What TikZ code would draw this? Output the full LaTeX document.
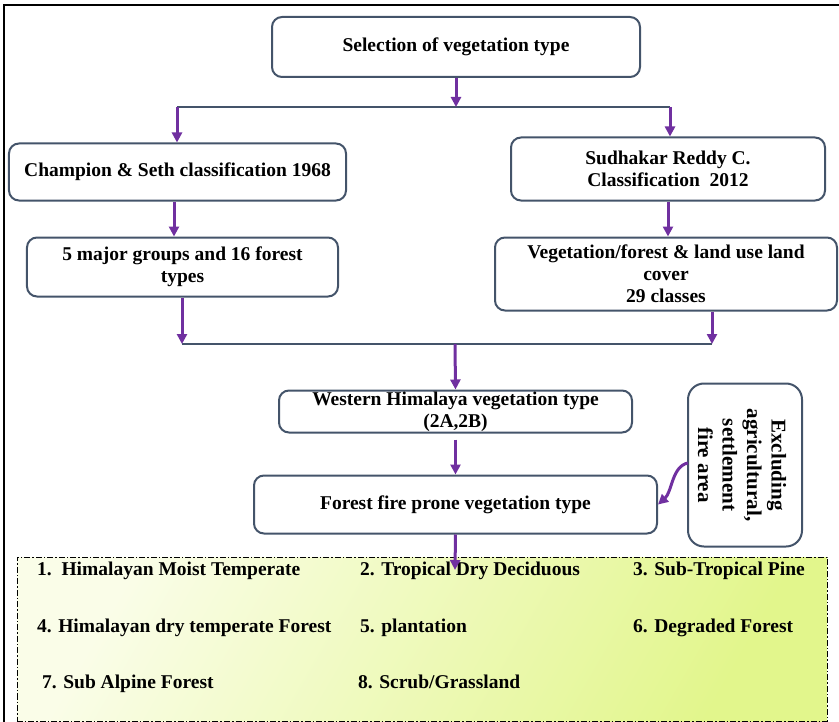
\documentclass[tikz,border=0pt]{standalone}
\usepackage{fontspec}
\setmainfont{Liberation Serif}
\usetikzlibrary{arrows.meta,calc}
\definecolor{boxc}{RGB}{68,84,106}
\definecolor{arrc}{RGB}{112,48,160}
\definecolor{gA}{RGB}{250,253,232}
\definecolor{gB}{RGB}{226,246,140}
\begin{document}
\begin{tikzpicture}[x=1bp,y=-1bp,
  txt/.style={font=\fontsize{19.5bp}{22bp}\selectfont\bfseries},
  box/.style={draw=boxc, line width=2bp, rounded corners=10bp, fill=white, inner sep=0pt, align=center, txt},
  arr/.style={draw=arrc, line width=3bp, -{Triangle[length=10bp,width=10bp]}},
  conn/.style={draw=boxc, line width=2bp},
  item/.style={anchor=base west, inner sep=0pt, txt}]
\useasboundingbox (0,0) rectangle (839,722);
\draw[line width=2bp] (4,740) -- (4,5) -- (850,5);

\node[box, minimum width=368bp, minimum height=60bp] (sel) at (456,47) {Selection of vegetation type};
\node[box, minimum width=337bp, minimum height=57bp] (cs) at (177.5,172) {Champion \& Seth classification 1968};
\node[box, minimum width=314bp, minimum height=63bp] (sr) at (668,169) {Sudhakar Reddy C.\\Classification\ \ 2012};
\node[box, minimum width=311bp, minimum height=59bp] (mj) at (182.5,267) {5 major groups and 16 forest\\types};
\node[box, minimum width=342bp, minimum height=73bp] (vg) at (666,274) {Vegetation/forest \& land use land\\cover\\29 classes};
\node[box, minimum width=353bp, minimum height=42bp] (wh) at (455.5,411.5) {Western Himalaya vegetation type\\(2A,2B)};
\node[box, minimum width=403bp, minimum height=58bp] (ff) at (455.5,504.5) {Forest fire prone vegetation type};
\node[box, minimum width=114bp, minimum height=163bp, rounded corners=16bp] (ex) at (745,465) {};
\node[font=\fontsize{21bp}{24.5bp}\selectfont\bfseries, rotate=-90, align=center, inner sep=0pt] (ext) at (742,465) {Excluding\\agricultural,\\settlement\\fire area};

\node[draw=black, line width=0.8bp, dash pattern=on 6bp off 2bp on 1.5bp off 2bp,
      left color=gA, right color=gB, shading angle=60,
      minimum width=810bp, minimum height=164bp, inner sep=0pt] (lst) at (422,639) {};

\node[item] (i1) at (37,575) {1.\ \ Himalayan Moist Temperate};
\node[item] (i2) at (360,575) {2. Tropical Dry Deciduous};
\node[item] (i3) at (633,575) {3. Sub-Tropical Pine};
\node[item] (i4) at (37,632) {4. Himalayan dry temperate Forest};
\node[item] (i5) at (360,632) {5. plantation};
\node[item] (i6) at (633,632) {6. Degraded Forest};
\node[item] (i7) at (42,688) {7. Sub Alpine Forest};
\node[item] (i8) at (358,688) {8. Scrub/Grassland};

\coordinate (j1) at (456,107);
\coordinate (jl) at (177,107);
\coordinate (jr) at (670,107);
\coordinate (k1) at (182,344);
\coordinate (k2) at (712,344);
\coordinate (k0) at (455,344);
\coordinate (lt) at (455,570);
\coordinate (es) at (688,463);

\draw[conn] (jl) -- (jr);
\draw[arr] (sel.south) -- (j1);
\draw[arr] (jl) -- (jl |- cs.north);
\draw[arr] (jr) -- (jr |- sr.north);
\draw[arr] ([xshift=-3.5bp]cs.south) -- ([xshift=-3.5bp]cs.south |- mj.north);
\draw[arr] (sr.south) -- (sr.south |- vg.north);
\draw[conn] (k1) -- (k2);
\draw[arr] (mj.south -| k1) -- (k1);
\draw[arr] (vg.south -| k2) -- (k2);
\draw[arr] (k0) -- (wh.north);
\draw[arr, shorten <=6bp] (wh.south) -- (ff.north);
\draw[arr] (ff.south) -- (lt);
\draw[arr] (es) .. controls (672,466) and (672,492) .. (ff.east);
\end{tikzpicture}
\end{document}
